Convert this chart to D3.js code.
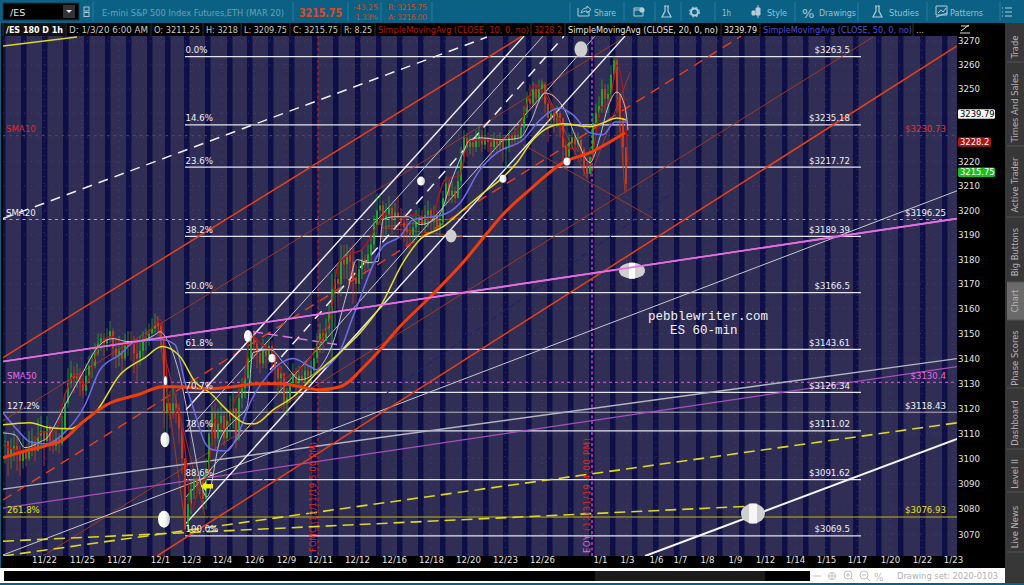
<!DOCTYPE html>
<html><head><meta charset="utf-8">
<script src="https://cdn.jsdelivr.net/npm/d3@7"></script>
<style>
html,body{margin:0;padding:0;background:#000;overflow:hidden}
svg{display:block}
text{font-family:"DejaVu Sans",sans-serif}
</style></head><body>
<svg id="c" width="1024" height="585"></svg>
<script>
// ---------- DATA ----------
const priceTicks=[3270,3260,3250,3240,3230,3220,3210,3200,3190,3180,3170,3160,3150,3140,3130,3120,3110,3100,3090,3080,3070];
const hiddenTicks=[3240,3230]; // covered by the price tags in the reference
const dateLabels=["11/22","11/25","11/27","12/1","12/3","12/4","12/6","12/9","12/11","12/12","12/16","12/18","12/20","12/23","12/26","1/1","1/3","1/6","1/7","1/8","1/9","1/12","1/14","1/15","1/17","1/20","1/22","1/23"];
const dateT=[44,82,119,160,191,222,254,286,320,357,394,431,468,505,542,600,627,656,680,707,735,765,795,826,857,890,922,953];
const closedT=[0,21,42,63,84,105,126,147,165,184,205,227,247,268,289,312,333,355,376,397,418,440,462,483,503,526,547,568,589,610,632,653,674,696,717,739,760,782,803,825,853,876,898,920,942];
const fibPct=["0.0%","14.6%","23.6%","38.2%","50.0%","61.8%","70.7%","78.6%","88.6%","100.0%"];
const fibPrice=[3263.5,3235.18,3217.72,3189.39,3166.5,3143.61,3126.34,3111.02,3091.62,3069.5];
const barClose=[3107,3101,3104,3105,3103,3099,3103,3100,3104,3107,3103,3109,3111,3107,3113,3107,3105,3108,3106,3112,3122,3130,3134,3132,3133,3130,3127,3133,3137,3137,3142,3146,3148,3146,3148,3151,3144,3141,3143,3140,3145,3147,3146,3142,3140,3143,3147,3148,3150,3152,3154,3153,3148,3118,3122,3119,3122,3120,3112,3100,3072,3082,3088,3092,3090,3091,3084,3096,3110,3118,3108,3114,3117,3108,3115,3118,3120,3108,3124,3128,3132,3140,3148,3146,3142,3138,3143,3141,3145,3141,3136,3132,3134,3122,3124,3130,3134,3130,3133,3131,3135,3133,3135,3140,3146,3150,3147,3152,3158,3168,3172,3170,3180,3178,3182,3179,3172,3170,3176,3180,3178,3182,3186,3194,3200,3202,3196,3198,3201,3196,3199,3197,3195,3193,3191,3190,3193,3195,3197,3194,3198,3200,3196,3198,3193,3195,3205,3211,3206,3208,3205,3212,3222,3230,3226,3228,3226,3229,3231,3227,3230,3228,3226,3229,3227,3229,3225,3226,3231,3229,3231,3230,3234,3240,3246,3244,3250,3246,3250,3252,3244,3238,3240,3237,3240,3238,3226,3222,3228,3230,3227,3229,3225,3218,3215,3222,3236,3240,3243,3250,3246,3248,3256,3262,3248,3238,3226,3211];
const barHigh=[3111,3107,3108,3111,3109,3105,3109,3105,3111,3112,3109,3116,3117,3113,3117,3113,3110,3112,3110,3117,3126,3136,3139,3137,3138,3136,3134,3138,3141,3142,3146,3150,3150,3150,3152,3155,3152,3148,3149,3146,3150,3151,3151,3149,3148,3149,3151,3152,3154,3156,3158,3157,3154,3148,3128,3127,3128,3126,3122,3114,3100,3086,3092,3096,3095,3095,3092,3100,3114,3121,3122,3120,3122,3118,3119,3125,3127,3120,3128,3132,3136,3146,3150.7,3150,3148,3143,3148,3146,3149,3147,3142,3138,3137,3134,3128,3134,3138,3136,3137,3136,3139,3138,3139,3144,3150,3154,3152,3156,3162,3174,3176,3178,3186,3186,3186,3185,3186,3178,3180,3184,3182,3186,3190,3198,3207,3207,3204,3203,3206,3203,3203,3206,3201,3199,3197,3195,3198,3200,3201,3200,3202,3204,3201,3202,3200,3199,3208,3214,3213,3212,3210,3216,3226,3233,3232,3231,3230,3233,3235,3233,3234,3232,3231,3232,3231,3232,3231,3229,3233,3232,3234,3233,3238,3243,3249,3252,3253,3252,3254,3254,3253,3245,3244,3242,3243,3241,3238,3228,3232,3234,3232,3232,3230,3226,3222,3226,3240,3244,3247,3254,3252,3252,3260,3264,3263,3248,3238,3226];
const barLow=[3098,3093,3096,3099,3095,3093,3096,3097,3099,3101,3099,3103,3104,3097,3105,3103,3102,3103,3102,3105,3110,3120,3128,3126,3128,3125,3124,3125,3130,3132,3136,3141,3143,3141,3143,3146,3140,3136,3137,3134,3139,3141,3139,3134,3131,3137,3140,3143,3145,3148,3150,3149,3143,3112,3110,3112,3116,3114,3106,3094,3070,3071,3078,3084,3086,3086,3080,3080,3095,3105,3104,3106,3110,3105,3107,3108,3112,3104,3107,3120,3124,3128,3130,3140,3136,3134,3136,3136,3138,3134,3130,3126,3126,3118,3117,3122,3128,3127,3128,3127,3130,3129,3130,3134,3138,3142,3142,3147,3150,3140,3152,3160,3165,3172,3172,3168,3162,3162,3166,3172,3174,3176,3178,3184,3190,3194,3188,3190,3193,3190,3192,3190,3188,3187,3185,3184,3187,3188,3190,3189,3191,3193,3191,3192,3190,3189,3193,3202,3203,3203,3203,3205,3210,3220,3222,3223,3222,3224,3226,3224,3225,3224,3222,3224,3223,3224,3220,3217,3224,3226,3227,3227,3228,3232,3238,3241,3243,3242,3245,3246,3240,3228,3234,3232,3234,3230,3219,3217,3220,3225,3224,3224,3220,3214,3213,3215,3222,3234,3238,3240,3240,3240,3245,3254,3240,3232,3218,3208];
const barStartT=5, barStepT=3;

const sma200T=[3,25,45,63,83,110,137,163,177,207,233,257,283,300,320,340,350,360,373,400,430,463,487,500,533,563,590,625];
const sma200=[3100.3,3103,3105,3107.4,3114.6,3122.1,3125.3,3128.6,3128.6,3127.8,3128.6,3129.8,3129.8,3128.6,3127.4,3128.6,3131,3135,3140.3,3152.8,3164.7,3178.7,3190.6,3197,3209.6,3219.6,3223.7,3231.9];
const sma100T=[3,30,50,70,85,95,120,145,162,180,195,210,230,247,255,273,293,317,340,363,380,403,420,443,463,483,500,517,533,550,563,590,603,617,626];
const sma100=[3113.4,3114.2,3112.2,3111.8,3115,3118.2,3133.4,3140.3,3144.7,3140.7,3130.6,3126.2,3118.2,3113.8,3113.8,3119.4,3124.5,3134.2,3142.3,3151.6,3160.7,3178.7,3188.1,3193.3,3200.2,3207.1,3212.5,3219.6,3229,3234.4,3235.6,3234.4,3236,3238,3237.2];
const sma50T=[3,20,30,47,62,85,100,120,135,163,175,185,193,205,213,227,237,250,270,283,293,310,317,337,353,383,400,413,443,460,480,497,523,540,560,573,590,603,615,627];
const sma50=[3118.2,3110.2,3106.6,3105.8,3109.4,3121.3,3135.4,3141.5,3146.7,3147.5,3145.5,3130.2,3120.5,3106.2,3103.5,3103,3108.6,3122.1,3134.2,3138.7,3139.9,3136.7,3135.4,3140.7,3156.8,3185.2,3189.3,3196.2,3198.2,3203,3216.7,3223.7,3229,3237.2,3242.2,3239.3,3231.9,3231.1,3236.4,3236.4];
const sma20T=[3,15,25,40,47,55,65,80,100,113,128,145,155,160,167,180,193,200,207,220,235,247,253,270,285,300,318,333,347,357,368,378,383,395,408,420,438,453,463,470,480,503,520,530,545,563,577,590,600,608,617,625,628];
const sma20=[3110.2,3109.4,3104.3,3106.6,3108.2,3113.4,3121.3,3132.2,3145.5,3147.9,3146.7,3147.5,3149.5,3150.7,3147.5,3132.6,3106.2,3091.5,3084.8,3107.4,3115.4,3120.5,3142.3,3143.5,3137.5,3131.4,3135.4,3146.3,3166.4,3179.9,3178.7,3179.1,3196.2,3197.4,3197.4,3194.2,3197.4,3213.8,3223.7,3229,3229.8,3229,3229.8,3236,3248.4,3242.6,3229,3219.6,3230.2,3242.6,3248.8,3242.6,3233];
const sma10T=[3,15,28,42,55,65,75,85,100,112,125,140,155,160,165,170,178,185,192,200,207,215,225,235,245,250,262,275,285,295,305,318,330,338,350,362,375,385,400,415,430,445,460,468,480,500,520,535,545,560,568,580,590,600,610,617,625,628];
const sma10=[3105.4,3103.5,3102.7,3110.6,3110.6,3125.3,3133.4,3129.4,3145.5,3148.7,3145.5,3146.7,3153.6,3155.6,3145.5,3115.4,3119.4,3103.5,3079.6,3090.7,3092.3,3115.4,3111.4,3123.3,3133.4,3149.5,3145.5,3141.5,3132.2,3134.6,3137.5,3145.5,3155.6,3177.9,3182,3184,3192.1,3198.2,3197,3198.2,3196.2,3212.5,3214.6,3228.2,3229,3229,3235.2,3251.7,3247.5,3235.2,3225.7,3224.9,3218.7,3241.3,3245.5,3260,3241.3,3218.7];

// trend lines: [t0, price0, t1, price1]
const orangeLines=[[3,3140.3,522,3272.1],[157,3061.6,957,3268]];
const orangeDashed=[[3,3083.6,741,3272.1]];
const thinRed=[[3,3115,625,3271.7],[43,3061.6,873,3271.7],[523,3227,652,3197],[541,3253.4,570,3239.2],[590,3213.8,630,3256.9],[383,3192.9,463,3189.3],[385,3193.3,465,3197],[157,3156.8,185,3074.4],[160,3148.7,205,3077.6],[541,3253.4,587,3213.4],[615,3263,625,3207.4]];
const navyDashed=[[205,3075.6,670,3206.3]];
const whiteSolid=[[186,3074.4,625,3272.1],[186,3119.4,524,3272.1]];
const whiteThin=[[186,3110.6,543,3272.1],[186,3084.8,595,3272.1],[3,3062,957,3208]];
const whiteDashed=[[270,3135.4,564,3272.1],[3,3196.6,487,3271.7]];
const grayLines=[[3,3087.9,957,3139.9]];
const purpleLines=[[3,3080.4,957,3136.7]];
const magentaLines=[[3,3138.7,957,3196.6]];
const magentaDashed=[[253,3150.7,338,3145.5]];
const yellowDashed=[[3,3061.6,957,3114.2],[3,3067.4,752,3081.2]];
const yellowSolid=[[3,3268,77,3271.7]];
const bigWhite=[[645,3061.6,957,3107.8]];

const sma10Level=3230.73, sma20Level=3196.25, sma50Level=3130.4, ext127=3118.43, ext261=3076.93;
const lastSma20=3239.79, lastSma10=3228.2, lastPrice=3215.75;
const noteT=[581,632,753,451,421,503,567,164,165,165.5,272,248];
const noteP=[3266.6,3175.4,3078.3,3189.5,3212,3213,3220,3076,3107.5,3131,3140,3149];
const sideTabs=["Trade","Times And Sales","Active Trader","Big Buttons","Chart","Phase Scores","Dashboard","Level II","Live News"];

// ---------- SCALES ----------
const x=d3.scaleLinear().domain([3,957]).range([3,957]);
const y=d3.scaleLog().domain([3061.6,3272.15]).range([556,36]);
const svg=d3.select("#c");
const F='"DejaVu Sans",sans-serif';

// backgrounds
svg.append("rect").attr("width",1024).attr("height",585).attr("fill","#000");
const defs=svg.append("defs");
defs.append("clipPath").attr("id","pc").append("rect").attr("x",3).attr("y",36).attr("width",954).attr("height",520);
const g1=defs.append("linearGradient").attr("id","gLeft");
g1.append("stop").attr("offset","0%").attr("stop-color","#ffffff");
g1.append("stop").attr("offset","55%").attr("stop-color","#fbfbfb");
g1.append("stop").attr("offset","100%").attr("stop-color","#c8c8c8");
const plot=svg.append("g").attr("clip-path","url(#pc)");
plot.append("rect").attr("x",3).attr("y",36).attr("width",954).attr("height",520).attr("fill","#302e54");
plot.selectAll(".band").data(closedT).join("rect").attr("x",d=>x(d)).attr("y",36).attr("width",5.5).attr("height",520).attr("fill","#0f0f47");
// faint grid
plot.selectAll(".gy").data(priceTicks).join("line").attr("x1",3).attr("x2",957).attr("y1",d=>y(d)).attr("y2",d=>y(d)).attr("stroke","#5a5880").attr("stroke-width",.5).attr("stroke-dasharray","1 6");
plot.selectAll(".gx").data(dateT).join("line").attr("x1",d=>x(d)).attr("x2",d=>x(d)).attr("y1",36).attr("y2",556).attr("stroke","#5a5880").attr("stroke-width",.5).attr("stroke-dasharray","1 6");

function hline(p,c,w,dash,t0=3,t1=957){const l=plot.append("line").attr("x1",x(t0)).attr("x2",x(t1)).attr("y1",y(p)).attr("y2",y(p)).attr("stroke",c).attr("stroke-width",w);if(dash)l.attr("stroke-dasharray",dash);}
function segs(data,c,w,dash,op){plot.selectAll(null).data(data).join("line").attr("x1",d=>x(d[0])).attr("y1",d=>y(d[1])).attr("x2",d=>x(d[2])).attr("y2",d=>y(d[3])).attr("stroke",c).attr("stroke-width",w).attr("stroke-dasharray",dash||null).attr("opacity",op||1);}

// vertical events
plot.append("line").attr("x1",x(318)).attr("x2",x(318)).attr("y1",36).attr("y2",556).attr("stroke","#c8261c").attr("stroke-width",1).attr("stroke-dasharray","3 3");
plot.append("line").attr("x1",x(592)).attr("x2",x(592)).attr("y1",36).attr("y2",556).attr("stroke","#e050e0").attr("stroke-width",1.2).attr("stroke-dasharray","3 2.5");

// horizontal levels
hline(sma10Level,"#a82a24",1,"2.5 4");
hline(sma20Level,"#a8a8b8",1.2,"3 3.5");
hline(sma50Level,"#d860d8",1,"3 3");
hline(ext127,"#b8b8c4",1);
hline(ext261,"#c0b410",1.1);
fibPrice.forEach(p=>hline(p,"#e4e4ec",1.2,null,185,861));

// trend lines
segs(thinRed,"#a83a24",.9);
segs(navyDashed,"#1a1a80",1,"6 4");
segs(purpleLines,"#a850c0",1.2);
segs(grayLines,"#b4b4c0",1.3);
segs(whiteThin,"#c8c8d0",1);
segs(orangeDashed,"#e8401a",1.4,"10 7");
segs(orangeLines,"#e8401a",1.5);
segs(whiteSolid,"#f0f0f4",1.4);
segs(whiteDashed,"#f0f0f4",1.5,"10 7");
segs(yellowDashed,"#dcd820",1.6,"11 6");
segs(yellowSolid,"#dcd820",1.5);
segs(magentaDashed,"#e070e0",1.4,"10 5");
segs(magentaLines,"#e46ee0",1.6);
segs(bigWhite,"#f4f4f4",2);

// candles
const bars=plot.append("g");
barClose.forEach((c,i)=>{
  const t=barStartT+barStepT*i, o=i?barClose[i-1]:c, up=c>=o, col=up?"#22b822":"#d8401a";
  bars.append("line").attr("x1",x(t)).attr("x2",x(t)).attr("y1",y(barHigh[i])).attr("y2",y(barLow[i])).attr("stroke",col).attr("stroke-width",.7);
  bars.append("rect").attr("x",x(t)-.8).attr("width",1.6).attr("y",y(Math.max(o,c))).attr("height",Math.max(.8,Math.abs(y(o)-y(c)))).attr("fill",col);
});

// moving averages
const curve=(T,V,c,w)=>plot.append("path").attr("d",d3.line().x((d,i)=>x(T[i])).y(d=>y(d)).curve(d3.curveMonotoneX)(V)).attr("fill","none").attr("stroke",c).attr("stroke-width",w).attr("stroke-linejoin","round");
curve(sma10T,sma10,"#b01818",1.4);
curve(sma20T,sma20,"#d0d0d8",.9);
curve(sma50T,sma50,"#6c6cec",1.5);
curve(sma100T,sma100,"#e4e020",1.5);
curve(sma200T,sma200,"#f23c0c",3);

// ellipse annotations
const noteSize=[[6.5,8],[13,8],[12,10],[5.5,6.5],[4,4.5],[3.5,4],[3.5,4],[6,8.5],[4.5,7.5],[1.7,4.5],[3.5,4.2],[4,6]];
plot.selectAll(".note").data(noteT).join("ellipse").attr("cx",d=>x(d)).attr("cy",(d,i)=>y(noteP[i])).attr("rx",(d,i)=>noteSize[i][0]).attr("ry",(d,i)=>noteSize[i][1]).attr("fill",(d,i)=>(i<=3)?"#cfcfcf":"url(#gLeft)");
plot.append("rect").attr("x",x(632)-3).attr("y",y(3175.4)-8).attr("width",6).attr("height",16).attr("fill","#fff");
plot.append("rect").attr("x",x(753)-4).attr("y",y(3078.3)-10).attr("width",8).attr("height",20).attr("fill","#fff").attr("opacity",.8);
// re-draw lines that pass over the ellipses
segs(magentaLines,"#e46ee0",1.6);
// yellow arrow
plot.append("path").attr("d",d3.line()([[x(201),y(3089)],[x(206),y(3090.9)],[x(206),y(3089.9)],[x(213),y(3089.9)],[x(213),y(3088.1)],[x(206),y(3088.1)],[x(206),y(3087.1)]])+"Z").attr("fill","#f2ea10");

// chart text
function label(px,py,s,c,size,anchor,extra){const t=svg.append("text").attr("x",px).attr("y",py).attr("fill",c).attr("font-size",size||9).attr("text-anchor",anchor||"start").text(s);if(extra)t.attr("font-weight",extra);return t;}
const yFib=p=>y(p)-3.5;
fibPct.forEach((s,i)=>label(x(185.5),yFib(fibPrice[i]),s,"#f0f0f4",8.6));
fibPrice.forEach(p=>label(x(850),yFib(p),"$"+p,"#f0f0f4",8.6,"end"));
label(7,y(ext127)-3.5,"127.2%","#f0f0f4",8.6);
label(7,y(ext261)-3.5,"261.8%","#e4e020",8.6);
label(6,y(sma10Level)-3.5,"SMA10","#e0281c",8.6);
label(6,y(sma20Level)-3.5,"SMA20","#f0f0f4",8.6);
label(7,y(sma50Level)-3.5,"SMA50","#e868e8",8.6);
label(x(946),y(sma10Level)-3.5,"$"+sma10Level,"#e8341c",8.6,"end");
label(x(946),y(sma20Level)-3.5,"$"+sma20Level,"#f0f0f4",8.6,"end");
label(x(946),y(sma50Level)-3.5,"$"+sma50Level,"#e868e8",8.6,"end");
label(x(946),y(ext127)-3.5,"$"+ext127,"#f0f0f4",8.6,"end");
label(x(946),y(ext261)-3.5,"$"+ext261,"#e4e020",8.6,"end");
svg.append("text").attr("transform","translate(316,552) rotate(-90)").attr("fill","#e0281c").attr("font-size",8.4).attr("textLength",110).text("FOMC (12/11/19 5:00 PM)");
const eoy=svg.append("text").attr("transform","translate(590,553) rotate(-90)").attr("fill","#e0281c").attr("font-size",8.4).attr("textLength",115);
eoy.append("tspan").attr("fill","#e868e8").text("EOY");eoy.append("tspan").text(" (12/31/19 4:00 PM)");
svg.append("text").attr("x",648).attr("y",320).attr("fill","#f4f4f4").attr("font-size",12.5).style("font-family","'Liberation Mono',monospace").text("pebblewriter.com");
svg.append("text").attr("x",670).attr("y",334).attr("fill","#f4f4f4").attr("font-size",12.5).style("font-family","'Liberation Mono',monospace").text("ES 60-min");

// axes
const yAxis=d3.axisRight(y).tickValues(priceTicks.filter(d=>!hiddenTicks.includes(d))).tickFormat(d3.format("d")).tickSize(0).tickPadding(1);
const ay=svg.append("g").attr("transform","translate(957,0)").call(yAxis);
const xAxis=d3.axisBottom(x).tickValues(dateT).tickFormat((d,i)=>dateLabels[i]).tickSize(0).tickPadding(1);
const ax=svg.append("g").attr("transform","translate(0,556)").call(xAxis);
[ay,ax].forEach(a=>{a.select(".domain").remove();a.selectAll("text").attr("fill","#e4e4e4").attr("font-size",8.6).style("font-family",F);});

function tag(p,txt,bg,fg){const py=y(p);svg.append("rect").attr("x",958).attr("y",py-4.5).attr("width",txt.length>6?37:33).attr("height",9.5).attr("rx",1.5).attr("fill",bg);label(960,py+3.2,txt,fg,8.4);}
tag(lastSma20,String(lastSma20),"#f4f4f4","#000");
tag(lastSma10,String(lastSma10),"#a81616","#f4f4f4");
tag(lastPrice,String(lastPrice),"#18c018","#fff");

// chart info bar
svg.append("rect").attr("x",0).attr("y",23).attr("width",1005).attr("height",13).attr("fill","#000");
svg.append("rect").attr("x",3).attr("y",23).attr("width",62).attr("height",13).attr("fill","#111");
const info=[["/ES 180 D 1h",6,57,"#fff","bold"],["D: 1/3/20 6:00 AM",69,79,"#c8c8c8"],["O: 3211.25",154,46,"#c8c8c8"],["H: 3218",206,32,"#c8c8c8"],["L: 3209.75",244,43,"#c8c8c8"],["C: 3215.75",293,45,"#c8c8c8"],["R: 8.25",344,28,"#c8c8c8"],["SimpleMovingAvg (CLOSE, 10, 0, no)",378,151,"#b41c14"],["3228.2",534,28,"#b41c14"],["SimpleMovingAvg (CLOSE, 20, 0, no)",568,150,"#e4e4e4"],["3239.79",724,33,"#e4e4e4"],["SimpleMovingAvg (CLOSE, 50, 0, no)",763,149,"#5050d8"],["...",916,8,"#c8c8c8"]];
info.forEach(d=>{label(d[1],33,d[0],d[3],8.4,"start",d[4]).attr("textLength",d[2]).attr("lengthAdjust","spacingAndGlyphs");
  svg.append("line").attr("x1",d[1]-3).attr("x2",d[1]-3).attr("y1",23).attr("y2",36).attr("stroke","#333");});

// header
svg.append("rect").attr("width",1024).attr("height",23).attr("fill","#0a6184");
svg.append("rect").attr("x",3).attr("y",3).attr("width",76).attr("height",17).attr("fill","#000").attr("stroke","#1a3a4a");
label(10,16,"/ES","#e8e8e8",9.5);
svg.append("rect").attr("x",63).attr("y",5).attr("width",12).attr("height",13).attr("fill","#333");
svg.append("path").attr("d","M66 10h6l-3 3z").attr("fill","#e8e8e8");
svg.append("rect").attr("x",84).attr("y",7).attr("width",5).attr("height",4).attr("fill","none").attr("stroke","#a8c8d4");
svg.append("rect").attr("x",84).attr("y",12.5).attr("width",5).attr("height",4).attr("fill","none").attr("stroke","#a8c8d4");
[93,293,348,381,432,570,624,655,681,715,795,858,927,1000].forEach(v=>svg.append("line").attr("x1",v).attr("x2",v).attr("y1",2).attr("y2",21).attr("stroke","#2a7c9e").attr("stroke-width",1));
label(102,16,"E-mini S&P 500 Index Futures,ETH (MAR 20)","#6aa2b8",9).attr("textLength",182).attr("lengthAdjust","spacingAndGlyphs");
label(299,17,"3215.75","#e8441a",11.5,"start","bold").attr("textLength",43).attr("lengthAdjust","spacingAndGlyphs");
label(353,10,"-43.25","#d8481e",7.8).attr("textLength",25);
label(353,20,"-1.33%","#d8481e",7.8).attr("textLength",25);
label(388,10,"B: 3215.75","#d8481e",7.8).attr("textLength",39);
label(388,20,"A: 3216.00","#d8481e",7.8).attr("textLength",39);
const btn=[["Share",594,22],["1h",722,9],["Style",767,20],["Drawings",819,37],["Studies",889,30],["Patterns",950,33]];
btn.forEach(d=>label(d[1],16,d[0],"#9cc0d0",8.6).attr("textLength",d[2]).attr("lengthAdjust","spacingAndGlyphs"));
const ic="#b4ccd8";
svg.append("path").attr("d","M578 8v8h11v-5M581 13c1-4 3-5 6-5V6l4 3.5-4 3.5v-2c-3 0-4 1-6 2z").attr("fill","none").attr("stroke",ic);
svg.append("path").attr("d","M634 8h9v8h-9zM634 10h9").attr("fill","none").attr("stroke",ic);
svg.append("circle").attr("cx",642).attr("cy",10).attr("r",2.6).attr("fill",ic);
svg.append("path").attr("d","M664 6h5M665 6v5l-3 6h9l-3-6V6").attr("fill","none").attr("stroke",ic).attr("stroke-width",1.2);
svg.append("circle").attr("cx",694.5).attr("cy",12).attr("r",3.5).attr("fill","none").attr("stroke",ic).attr("stroke-width",2);
svg.append("circle").attr("cx",694.5).attr("cy",12).attr("r",5).attr("fill","none").attr("stroke",ic).attr("stroke-width",1).attr("stroke-dasharray","2 2");
svg.append("path").attr("d","M752 11h3v4h-3zM756 8h4v7h-4zM758 5v3M758 15v3").attr("fill",ic).attr("stroke",ic);
label(802,18,"%","#b4ccd8",13);
svg.append("path").attr("d","M875 6h5M876 6v5l-3 6h9l-3-6V6").attr("fill","none").attr("stroke",ic).attr("stroke-width",1.2);
svg.append("path").attr("d","M936 6h11v9h-11zM936 17l11-4M938 13l3-3 2 2 3-4").attr("fill","none").attr("stroke",ic);
svg.append("path").attr("d","M1005 8h7M1005 12h7M1005 16h7M1002 8h1M1002 12h1M1002 16h1").attr("fill","none").attr("stroke",ic);
// axis corner icon
svg.append("path").attr("d","M960 33h10M961 31l8-6M961 26h8").attr("fill","none").attr("stroke","#e0e0e0").attr("stroke-width",1);

// left edge
svg.append("rect").attr("x",0).attr("y",23).attr("width",1).attr("height",562).attr("fill","#0a6184");
svg.append("rect").attr("x",1).attr("y",36).attr("width",2).attr("height",520).attr("fill","#000");

// right sidebar
svg.append("rect").attr("x",1005).attr("y",23).attr("width",19).attr("height",560).attr("fill","#373737");
svg.append("rect").attr("x",1007).attr("y",282).attr("width",17).attr("height",38).attr("fill","#6a6a6a");
const tabY=[47,108,185,252,301,358,423,474,527], tabSep=[62,146,217,282,320,388,449,492,552];
tabSep.forEach(v=>svg.append("line").attr("x1",1007).attr("x2",1024).attr("y1",v).attr("y2",v).attr("stroke","#555"));
sideTabs.forEach((s,i)=>svg.append("text").attr("transform",`translate(1018,${tabY[i]}) rotate(-90)`).attr("text-anchor","middle").attr("fill","#b4b4b4").attr("font-size",8.4).text(s));

// bottom bars
svg.append("rect").attr("x",0).attr("y",568).attr("width",1005).attr("height",15).attr("fill","#fff");
svg.append("rect").attr("x",4).attr("y",571).attr("width",806).attr("height",10).attr("fill","#000");
svg.append("rect").attr("x",595).attr("y",571).attr("width",170).attr("height",10).attr("fill","#1c1c1c");
svg.append("rect").attr("x",0).attr("y",583).attr("width",1024).attr("height",2).attr("fill","#0a6184");
const bi="#c0c0c0";
svg.append("circle").attr("cx",832).attr("cy",576).attr("r",3.5).attr("fill","none").attr("stroke",bi);
svg.append("path").attr("d","M813 576h8M828 576h8M832 572v8").attr("stroke",bi).attr("fill","none");
svg.append("circle").attr("cx",848).attr("cy",575).attr("r",4).attr("fill","none").attr("stroke",bi);
svg.append("circle").attr("cx",864).attr("cy",575).attr("r",4).attr("fill","none").attr("stroke",bi);
svg.append("path").attr("d","M851 578l3 3M867 578l3 3M846 575h4M848 573v4M862 575h4").attr("stroke",bi).attr("fill","none");
label(874,581,"%","#b8b8b8",10);
label(897,579,"Drawing set: 2020-0103","#b0b0b0",8.4).attr("textLength",101).attr("lengthAdjust","spacingAndGlyphs");
</script></body></html>
